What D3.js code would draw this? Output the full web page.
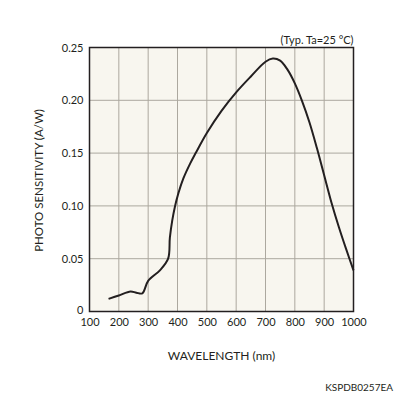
<!DOCTYPE html>
<html lang="en">
<head>
  <meta charset="UTF-8">
  <title>Photo sensitivity</title>
  <style>
    body { margin: 0; background: #fff; }
    text { font-family: Lato, "Open Sans", sans-serif; fill: #231f20; }
  </style>
</head>
<body>
  <script src="https://d3js.org/d3.v7.min.js"></script>
  <script>
    const width = 396;
    const height = 396;
    const margin = { top: 47.5, left: 89.5, right: 42.5, bottom: 84.5 };
    const innerW = width - margin.left - margin.right;
    const innerH = height - margin.top - margin.bottom;

    // spectral response
    const wavelengths = [165, 200, 240, 260, 280, 300, 340, 368, 374, 382, 391, 403, 420, 443, 462, 500,
                         550, 600, 650, 700, 725, 750, 775, 800, 825, 850, 875, 900, 925, 950, 975, 1000];
    const sensitivity = [0.012, 0.0152, 0.019, 0.0178, 0.0172, 0.029, 0.039, 0.050, 0.070, 0.086, 0.099, 0.112, 0.126, 0.140, 0.150, 0.169,
                         0.190, 0.2075, 0.2225, 0.2365, 0.2395, 0.2375, 0.229, 0.216, 0.199, 0.179, 0.155, 0.129, 0.103, 0.080, 0.059, 0.039];
    const xTicks = [100, 200, 300, 400, 500, 600, 700, 800, 900, 1000];
    const yTicks = [0, 0.05, 0.10, 0.15, 0.20, 0.25];

    const x = d3.scaleLinear().domain([100, 1000]).range([0, innerW]);
    const y = d3.scaleLinear().domain([0, 0.25]).range([innerH, 0]);

    const svg = d3.select('body').append('svg')
      .attr('width', width)
      .attr('height', height);

    const g = svg.append('g')
      .attr('transform', 'translate(' + margin.left + ',' + margin.top + ')');

    g.append('rect')
      .attr('width', innerW)
      .attr('height', innerH)
      .attr('fill', '#f8f6ef');

    // grid
    g.selectAll('.vgrid')
      .data(xTicks.slice(1, -1))
      .enter().append('line')
      .attr('x1', d => x(d)).attr('x2', d => x(d))
      .attr('y1', 0).attr('y2', innerH)
      .attr('stroke', '#aca89f').attr('stroke-width', 1);
    g.selectAll('.hgrid')
      .data(yTicks.slice(1, -1))
      .enter().append('line')
      .attr('x1', 0).attr('x2', innerW)
      .attr('y1', d => y(d)).attr('y2', d => y(d))
      .attr('stroke', '#aca89f').attr('stroke-width', 1);

    // axes (labels only)
    const xAxis = g.append('g')
      .attr('transform', 'translate(0,' + innerH + ')')
      .call(d3.axisBottom(x).tickValues(xTicks).tickSize(0).tickPadding(7).tickFormat(d3.format('d')));
    const yAxis = g.append('g')
      .call(d3.axisLeft(y).tickValues(yTicks).tickSize(0).tickPadding(6)
        .tickFormat(d => d === 0 ? '0' : d3.format('.2f')(d)));
    [xAxis, yAxis].forEach(a => {
      a.select('.domain').remove();
      a.selectAll('text').attr('font-size', 11).attr('font-family', 'Lato, sans-serif').attr('fill', '#231f20');
    });
    // the zero label sits a bit low in the original, next to the 100
    yAxis.selectAll('.tick').filter(d => d === 0).select('text').attr('dy', '0.2em');

    // frame
    g.append('rect')
      .attr('width', innerW)
      .attr('height', innerH)
      .attr('fill', 'none')
      .attr('stroke', '#231f20')
      .attr('stroke-width', 1.5);

    // curve
    const line = d3.line()
      .x((d, i) => x(wavelengths[i]))
      .y(d => y(d))
      .curve(d3.curveCatmullRom.alpha(0.5));

    g.append('path')
      .datum(sensitivity)
      .attr('d', line)
      .attr('fill', 'none')
      .attr('stroke', '#231f20')
      .attr('stroke-width', 2);

    // texts
    svg.append('text')
      .attr('x', margin.left + innerW)
      .attr('y', 44)
      .attr('text-anchor', 'end')
      .attr('font-size', 11)
      .text('(Typ. Ta=25 °C)');

    svg.append('text')
      .attr('x', margin.left + innerW / 2)
      .attr('y', 360)
      .attr('text-anchor', 'middle')
      .attr('font-size', 12)
      .text('WAVELENGTH (nm)');

    svg.append('text')
      .attr('transform', 'translate(43,' + (margin.top + innerH / 2 + 1) + ') rotate(-90)')
      .attr('text-anchor', 'middle')
      .attr('font-size', 11.5)
      .text('PHOTO SENSITIVITY (A/W)');

    svg.append('text')
      .attr('x', 393)
      .attr('y', 391)
      .attr('text-anchor', 'end')
      .attr('font-size', 10)
      .text('KSPDB0257EA');
  </script>
</body>
</html>
